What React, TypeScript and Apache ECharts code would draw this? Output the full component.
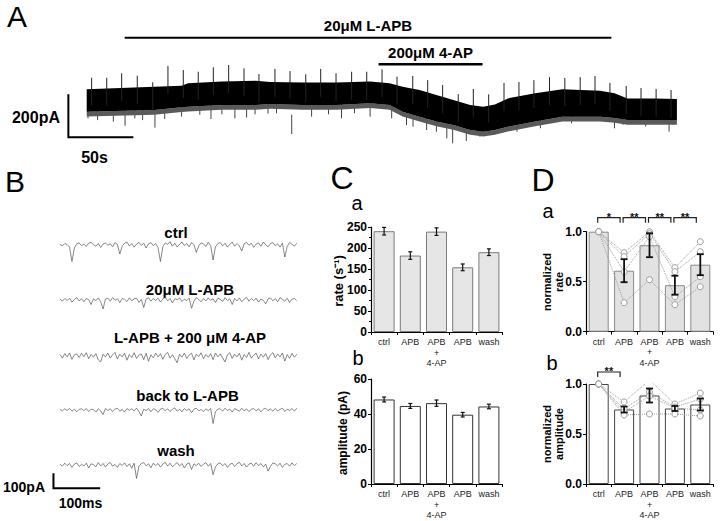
import React, { useEffect, useRef } from "react";
import * as echarts from "echarts";

const FF = "'Liberation Sans', Arial, sans-serif";

// ---------------- Panel A : long recording (time in s, current in pA) ----------------
const aTime = [0, 52, 73, 78, 104, 130, 141, 166, 192, 218, 233, 243, 256, 269, 282, 295, 305, 314, 324, 345, 366, 395, 406, 416, 437, 454];
const aTop = [223, 235, 240, 251, 259, 263, 257, 255, 255, 259, 251, 235, 220, 197, 173, 150, 142, 153, 181, 205, 223, 217, 205, 181, 181, 178];
const aBottom = [119, 127, 140, 142, 150, 150, 155, 150, 150, 158, 150, 119, 96, 73, 57, 34, 26, 34, 49, 73, 96, 96, 90, 80, 80, 80];
const aFringe = [97, 105, 118, 120, 128, 128, 133, 128, 128, 136, 128, 97, 74, 51, 35, 12, 4, 12, 27, 51, 74, 74, 68, 58, 58, 58];
const aUpT = [3.8, 15.4, 26.9, 38.9, 50.8, 62.5, 74.3, 85.8, 97.4, 109.2, 121, 132.5, 144.8, 156.4, 168.5, 180, 191.8, 203.8, 215.4, 227.2, 238.7, 250.8, 262.3, 273.8, 285.8, 297.4, 309.2, 321, 332.5, 344, 356, 367.8, 379.6, 391, 402.5, 415, 426.4, 438, 449.5];
const aUpV = [277, 277, 298, 286, 256, 332, 313, 305, 326, 336, 321, 294, 318, 308, 293, 318, 298, 305, 305, 316, 282, 285, 266, 243, 201, 225, 200, 253, 257, 266, 280, 276, 280, 285, 253, 239, 229, 225, 220];
const aDownT = [1, 8.4, 20.5, 29.5, 37, 43, 52.5, 60, 73, 87, 95.6, 104, 114, 123, 129.5, 139.5, 146, 157.7, 173, 186, 196, 206, 218, 234.6, 246, 251, 261.5, 269, 277, 281.5, 292, 302.5, 310, 331, 349, 373, 406, 412.5, 430, 448];
const aDownV = [88, 80, 73, 54, 88, 80, 45, 85, 96, 105, 85, 107, 88, 92, 107, 110, 112, 15, 96, 107, 88, 112, 96, 88, 57, 49, 34, 26, -5, -28, -17, 3, 11, 26, 42, 65, 42, 58, 50, 26];
const aDrugNames = ["20\u03bcM L-APB", "200\u03bcM 4-AP"];
const aDrugStart = [29.2, 224.5];
const aDrugEnd = [403.6, 304.5];
const aDrugLevel = [463, 340];
const aScaleT = [-14.1, 35.9]; // 50 s
const aScaleV = [0, 200]; // 200 pA

// ---------------- Panel B : sweeps (time in ms, current in pA) ----------------
const bLabels = ["ctrl", "20\u03bcM L-APB", "L-APB + 200 \u03bcM 4-AP", "back to L-APB", "wash"];
const bCtrl = [
  4, -6, 10, 2, -14, -110, -20, 8, 14, -4,
  6, -10, 12, 18, 2, -8, 10, -16, 6, 14,
  -2, 8, -12, 16, 4, -60, -8, 12, 20, -6,
  10, -14, 6, 18, -2, 12, -20, 8, 16, -4,
  10, -18, -110, -10, 14, 4, 22, -8, 12, -14,
  6, 20, -4, 10, -12, 16, 2, -50, -6, 14,
  8, -10, 18, -4, -100, -12, 10, 16, -6, 12,
  -14, 4, 20, -8, 10, -6, -40, 8, 18, -2,
  12, -16, 6, 14, -8, 20, 2, -12, 10, 16,
  -6, 8, -14, 12, -80, -10, 18, 4, -8, 12,
];
const bLapb = [
  6, -8, 10, -4, 12, -14, 4, 16, -6, 8,
  -12, 10, 2, -30, 8, -4, 14, -10, -60, 6,
  12, -8, 16, -2, 8, -18, 10, 4, -10, 14,
  -6, 8, 12, -16, 4, -50, 6, 16, -8, 10,
  -4, 12, -14, 6, 18, -6, 10, -20, 8, 2,
  14, -10, 6, -4, 12, -55, -8, 16, 4, -12,
  10, -6, 14, -2, 8, -16, 12, 4, -10, 16,
  -4, 8, -30, 10, -6, 14, -12, 6, 18, -8,
  10, -4, 12, -14, 6, -2, -26, 8, 14, -6,
  10, -12, 16, 4, -8, 12, -16, 6, 10, -4,
];
const bLapb4ap = [
  10, -14, 16, -6, 20, -22, 8, 14, -10, 18,
  -4, 22, -18, 10, -8, 16, -26, -40, 12, -6,
  20, -14, 8, 24, -20, 12, -6, 18, -28, 10,
  -10, 22, -16, 6, 14, -24, 18, -35, 8, -12,
  20, -6, 16, -22, 10, 24, -14, 8, -18, -45,
  12, -8, 20, -16, 6, 18, -26, 12, -4, 22,
  -18, 10, -8, 16, -24, 20, -6, 14, -12, -40,
  8, 22, -16, 12, -6, 18, -28, 10, -10, 24,
  -14, 6, 20, -20, 12, -8, 16, -24, 8, 22,
  -12, 14, -6, 20, -34, 10, -16, 18, -8, 12,
];
const bBack = [
  4, -6, 8, -2, 10, -8, 6, -12, 4, 8,
  -4, 10, -10, 6, 2, -14, 8, -6, -30, 10,
  -4, 8, -10, 6, 12, -8, 4, -14, 10, -2,
  8, -6, 12, -10, -40, 6, -4, 10, -12, 8,
  2, -16, 6, 12, -6, 8, -10, 4, 14, -8,
  6, -12, 10, -4, 8, -18, 6, 12, -6, 4,
  -10, 8, -4, 10, -90, -12, 6, 8, -8, 12,
  -4, 6, -14, 10, 2, -8, 12, -6, 8, -10,
  4, 10, -6, 8, -12, 6, 12, -4, 8, -8,
  10, -6, 4, 12, -10, 6, -4, 10, -8, 12,
];
const bWash = [
  6, -8, 12, -4, 10, -16, 6, 14, -10, 4,
  -6, 12, -20, 8, 2, -12, 16, -6, 10, -14,
  6, 18, -8, 4, -16, 10, -4, 14, -10, 8,
  -22, 12, -90, -8, 10, 16, -6, 8, -18, 12,
  -4, 10, -14, 6, 18, -8, 12, -12, 4, 16,
  -6, 10, -20, 6, 14, -30, 8, -4, 12, -10,
  6, 16, -8, 10, -65, -12, 8, 14, -6, 10,
  -16, 4, 12, -10, 8, 18, -6, 10, -14, 6,
  12, -8, 16, -4, 10, -12, 6, -40, -10, 14,
  8, -6, 12, -16, 4, 10, -8, 14, -4, 10,
];
const bTraces = [bCtrl, bLapb, bLapb4ap, bBack, bWash];
const bDuration = 507; // ms
const bScaleT = [-14, 86]; // 100 ms
const bScaleV = [-55, -155]; // 100 pA

// ---------------- Panels C and D ----------------
const catLabels = ["ctrl", "APB", "APB\n+\n4-AP", "APB", "wash"];
const caRate = [240, 182, 239, 154, 190];
const caRateErr = [9, 9, 9, 8, 8];
const cbAmp = [48.3, 44.6, 46.2, 39.6, 44.3];
const cbAmpErr = [1.4, 1.4, 1.8, 1.3, 1.3];

const daMean = [1.0, 0.61, 0.865, 0.465, 0.67];
const daErr = [0, 0.115, 0.12, 0.095, 0.105];
const daCell1 = [1.0, 0.79, 1.0, 0.64, 0.9];
const daCell2 = [1.0, 0.75, 0.98, 0.6, 0.8];
const daCell3 = [1.0, 0.6, 0.95, 0.35, 0.55];
const daCell4 = [1.0, 0.29, 0.52, 0.27, 0.45];
const daSigFrom = [0, 1, 2, 3];
const daSigTo = [1, 2, 3, 4];
const daSigText = ["*", "**", "**", "**"];
const daSigLevel = 1.14;

const dbMean = [1.0, 0.745, 0.885, 0.755, 0.795];
const dbErr = [0, 0.03, 0.07, 0.025, 0.06];
const dbCell1 = [1.0, 0.82, 1.04, 0.8, 0.91];
const dbCell2 = [1.0, 0.75, 0.92, 0.77, 0.85];
const dbCell3 = [1.0, 0.72, 0.88, 0.76, 0.74];
const dbCell4 = [1.0, 0.69, 0.7, 0.7, 0.68];
const dbSigFrom = [0];
const dbSigTo = [1];
const dbSigText = ["**"];
const dbSigLevel = 1.12;

function txt(text: string, x: number, y: number, size: number, opts: any = {}) {
  return {
    type: "text",
    x,
    y,
    rotation: opts.rotation || 0,
    style: {
      text,
      fill: opts.color || "#000",
      fontSize: size,
      fontWeight: opts.weight || "normal",
      fontFamily: FF,
      align: opts.align || "center",
      textAlign: opts.align || "center",
      verticalAlign: "middle",
      textVerticalAlign: "middle",
      lineHeight: opts.lineHeight,
    },
  };
}

function hiddenVal(gi: number, min: number, max: number) {
  return { type: "value", gridIndex: gi, min, max, show: false, splitLine: { show: false } };
}

function catAxis(gi: number) {
  return {
    type: "category",
    gridIndex: gi,
    data: catLabels,
    axisLine: { lineStyle: { color: "#000", width: 1.2 } },
    axisTick: { show: true, length: 3, lineStyle: { color: "#000" } },
    axisLabel: { interval: 0, fontSize: 9, color: "#222", margin: 5, lineHeight: 10.5, fontFamily: FF },
    splitLine: { show: false },
  };
}

function valAxis(gi: number, max: number, interval: number, dec: number, minor: boolean) {
  return {
    type: "value",
    gridIndex: gi,
    min: 0,
    max,
    interval,
    axisLine: { show: true, lineStyle: { color: "#000", width: 1.2 } },
    axisTick: { show: true, length: 3, lineStyle: { color: "#000" } },
    minorTick: { show: minor, splitNumber: 2, length: 2, lineStyle: { color: "#000" } },
    axisLabel: {
      fontSize: 12,
      fontWeight: "bold",
      color: "#000",
      margin: 4,
      fontFamily: FF,
      formatter: (v: number) => v.toFixed(dec),
    },
    splitLine: { show: false },
  };
}

function errSeries(gi: number, mean: number[], err: number[], capHalf: number, lw: number) {
  return {
    type: "custom",
    xAxisIndex: gi,
    yAxisIndex: gi,
    z: 5,
    itemStyle: { color: "#111" },
    data: mean.map((m, i) => [i, m, err[i]]),
    encode: { x: 0, y: 1 },
    renderItem: (_p: any, api: any) => {
      const i = api.value(0);
      const m = api.value(1);
      const e = api.value(2);
      if (!e) return null;
      const t = api.coord([i, m + e]);
      const b = api.coord([i, m - e]);
      const x = t[0];
      const st = { stroke: "#111", lineWidth: lw };
      return {
        type: "group",
        children: [
          { type: "line", shape: { x1: x, y1: t[1], x2: x, y2: b[1] }, style: st },
          { type: "line", shape: { x1: x - capHalf, y1: t[1], x2: x + capHalf, y2: t[1] }, style: st },
          { type: "line", shape: { x1: x - capHalf, y1: b[1], x2: x + capHalf, y2: b[1] }, style: st },
        ],
      };
    },
  };
}

function sigSeries(gi: number, from: number[], to: number[], labels: string[], level: number) {
  return {
    type: "custom",
    xAxisIndex: gi,
    yAxisIndex: gi,
    z: 5,
    itemStyle: { color: "#111" },
    data: from.map((f, i) => [f, to[i], level]),
    encode: { x: [0, 1], y: 2 },
    renderItem: (p: any, api: any) => {
      const a = api.coord([api.value(0), api.value(2)]);
      const b = api.coord([api.value(1), api.value(2)]);
      const x1 = a[0] - 1;
      const x2 = b[0] - 4;
      const y = a[1];
      return {
        type: "group",
        children: [
          {
            type: "polyline",
            shape: { points: [[x1, y + 5], [x1, y], [x2, y], [x2, y + 5]] },
            style: { stroke: "#222", lineWidth: 1.2, fill: "none" },
          },
          {
            type: "text",
            x: (x1 + x2) / 2,
            y: y - 1,
            style: {
              text: labels[p.dataIndex],
              fontSize: 11,
              fontWeight: "bold",
              fontFamily: FF,
              fill: "#111",
              textFill: "#111",
              align: "center",
              verticalAlign: "middle",
            },
          },
        ],
      };
    },
  };
}

function cellSeries(gi: number, values: number[]) {
  return {
    type: "line",
    xAxisIndex: gi,
    yAxisIndex: gi,
    data: values,
    z: 3,
    symbol: "circle",
    symbolSize: 6,
    itemStyle: { color: "#fff", borderColor: "#9a9a9a", borderWidth: 1 },
    lineStyle: { color: "#9a9a9a", width: 1, type: "dotted" },
  };
}

function barSeries(gi: number, data: number[], fill: string, border: string, w: number) {
  return {
    type: "bar",
    xAxisIndex: gi,
    yAxisIndex: gi,
    data,
    barWidth: w,
    z: 2,
    itemStyle: { color: fill, borderColor: border, borderWidth: 1 },
  };
}

function buildOption() {
  // B grid geometry: t=0 at x=60, 0.467 px/ms; 0.15 px/pA
  const bBase = [245, 300, 356, 410, 465];
  const bMin = -16;
  const bMax = 510;
  const bPx = 0.467;
  const grids: any[] = [
    { left: 60.7, top: 51.3, width: 624, height: 94.6 },
    ...bBase.map((base) => ({ left: 60 + bMin * bPx, top: base - 6, width: (bMax - bMin) * bPx, height: 30 })),
    { left: 371, top: 227, width: 131, height: 105 },
    { left: 371, top: 379, width: 131, height: 105 },
    { left: 586, top: 231.7, width: 127, height: 100 },
    { left: 586, top: 384, width: 127, height: 100 },
  ];

  const xAxes: any[] = [
    hiddenVal(0, -20, 460),
    ...bBase.map((_, i) => hiddenVal(i + 1, bMin, bMax)),
    catAxis(6),
    catAxis(7),
    catAxis(8),
    catAxis(9),
  ];
  const yAxes: any[] = [
    hiddenVal(0, -40, 400),
    ...bBase.map((_, i) => hiddenVal(i + 1, -160, 40)),
    valAxis(6, 250, 50, 0, true),
    valAxis(7, 60, 20, 0, false),
    valAxis(8, 1, 0.5, 1, false),
    valAxis(9, 1, 0.5, 1, false),
  ];

  const series: any[] = [];

  // A: band of the recording
  series.push({
    type: "custom",
    xAxisIndex: 0,
    yAxisIndex: 0,
    z: 2,
    itemStyle: { color: "#000" },
    data: aTime.map((t, i) => [t, aTop[i], aBottom[i], aFringe[i]]),
    encode: { x: 0, y: [1, 2, 3] },
    renderItem: (p: any, api: any) => {
      if (p.dataIndex !== 0) return null;
      const top = aTime.map((t, i) => api.coord([t, aTop[i]]));
      const bot = aTime.map((t, i) => api.coord([t, aBottom[i]]));
      const fr = aTime.map((t, i) => api.coord([t, aFringe[i]]));
      return {
        type: "group",
        children: [
          { type: "polygon", shape: { points: [...bot, ...fr.slice().reverse()] }, style: { fill: "#5a5a5a" } },
          { type: "polygon", shape: { points: [...top, ...bot.slice().reverse()] }, style: { fill: "#000" } },
        ],
      };
    },
  });
  // A: upward artefact spikes
  series.push({
    type: "custom",
    xAxisIndex: 0,
    yAxisIndex: 0,
    z: 3,
    itemStyle: { color: "#000" },
    data: aUpT.map((t, i) => [t, aUpV[i]]),
    encode: { x: 0, y: 1 },
    renderItem: (_p: any, api: any) => {
      const a = api.coord([api.value(0), api.value(1)]);
      const b = api.coord([api.value(0), api.value(1) - 130]);
      return { type: "line", shape: { x1: a[0], y1: a[1], x2: b[0], y2: b[1] }, style: { stroke: "#222", lineWidth: 1 } };
    },
  });
  // A: downward events
  series.push({
    type: "custom",
    xAxisIndex: 0,
    yAxisIndex: 0,
    z: 1,
    itemStyle: { color: "#333" },
    data: aDownT.map((t, i) => [t, aDownV[i]]),
    encode: { x: 0, y: 1 },
    renderItem: (_p: any, api: any) => {
      const a = api.coord([api.value(0), api.value(1)]);
      const b = api.coord([api.value(0), api.value(1) + 90]);
      return { type: "line", shape: { x1: a[0], y1: a[1], x2: b[0], y2: b[1] }, style: { stroke: "#444", lineWidth: 1 } };
    },
  });
  // A: drug application bars
  series.push({
    type: "custom",
    xAxisIndex: 0,
    yAxisIndex: 0,
    z: 3,
    itemStyle: { color: "#000" },
    data: aDrugStart.map((s, i) => [s, aDrugEnd[i], aDrugLevel[i]]),
    encode: { x: [0, 1], y: 2 },
    renderItem: (p: any, api: any) => {
      const a = api.coord([api.value(0), api.value(2)]);
      const b = api.coord([api.value(1), api.value(2)]);
      return {
        type: "group",
        children: [
          { type: "line", shape: { x1: a[0], y1: a[1], x2: b[0], y2: b[1] }, style: { stroke: "#000", lineWidth: p.dataIndex === 0 ? 2 : 2.6 } },
          {
            type: "text",
            x: (a[0] + b[0]) / 2,
            y: a[1] - 12,
            style: {
              text: aDrugNames[p.dataIndex],
              fontSize: 15,
              fontWeight: "bold",
              fontFamily: FF,
              fill: "#000",
              align: "center",
              verticalAlign: "middle",
            },
          },
        ],
      };
    },
  });
  // A: scale bar
  series.push({
    type: "custom",
    xAxisIndex: 0,
    yAxisIndex: 0,
    itemStyle: { color: "#000" },
    data: [[aScaleT[0], aScaleT[1], aScaleV[0], aScaleV[1]]],
    encode: { x: [0, 1], y: [2, 3] },
    renderItem: (_p: any, api: any) => {
      const p1 = api.coord([api.value(0), api.value(3)]);
      const p0 = api.coord([api.value(0), api.value(2)]);
      const p2 = api.coord([api.value(1), api.value(2)]);
      return { type: "polyline", shape: { points: [p1, p0, p2] }, style: { stroke: "#000", lineWidth: 2, fill: "none" } };
    },
  });

  // B traces
  bTraces.forEach((tr, k) => {
    const dt = bDuration / (tr.length - 1);
    series.push({
      type: "line",
      xAxisIndex: k + 1,
      yAxisIndex: k + 1,
      showSymbol: false,
      symbol: "none",
      data: tr.map((v, i) => [i * dt, v]),
      lineStyle: { color: "#555", width: 0.7 },
    });
  });
  // B scale bar (in wash sweep coordinates)
  series.push({
    type: "custom",
    xAxisIndex: 5,
    yAxisIndex: 5,
    itemStyle: { color: "#000" },
    data: [[bScaleT[0], bScaleT[1], bScaleV[0], bScaleV[1]]],
    encode: { x: [0, 1], y: [2, 3] },
    renderItem: (_p: any, api: any) => {
      const p1 = api.coord([api.value(0), api.value(2)]);
      const p0 = api.coord([api.value(0), api.value(3)]);
      const p2 = api.coord([api.value(1), api.value(3)]);
      return { type: "polyline", shape: { points: [p1, p0, p2] }, style: { stroke: "#000", lineWidth: 2, fill: "none" } };
    },
  });

  // C
  series.push(barSeries(6, caRate, "#e6e6e6", "#7a7a7a", 21));
  series.push(errSeries(6, caRate, caRateErr, 2, 1.2));
  series.push(barSeries(7, cbAmp, "#ffffff", "#333", 21));
  series.push(errSeries(7, cbAmp, cbAmpErr, 2, 1.2));

  // D
  series.push(barSeries(8, daMean, "#e2e2e2", "#8a8a8a", 20));
  [daCell1, daCell2, daCell3, daCell4].forEach((c) => series.push(cellSeries(8, c)));
  series.push(errSeries(8, daMean, daErr, 3.5, 1.8));
  series.push(sigSeries(8, daSigFrom, daSigTo, daSigText, daSigLevel));

  series.push(barSeries(9, dbMean, "#ffffff", "#444", 20));
  [dbCell1, dbCell2, dbCell3, dbCell4].forEach((c) => series.push(cellSeries(9, c)));
  series.push(errSeries(9, dbMean, dbErr, 3.5, 1.8));
  series.push(sigSeries(9, dbSigFrom, dbSigTo, dbSigText, dbSigLevel));

  const graphic: any[] = [
    txt("A", 17, 16, 30),
    txt("B", 15, 181, 30),
    txt("C", 342, 178, 32),
    txt("D", 543, 180, 32),
    txt("a", 357, 203, 20),
    txt("b", 358, 358, 20),
    txt("a", 548, 211, 20),
    txt("b", 552, 363, 20),
    txt("200pA", 60, 117, 16, { weight: "bold", align: "right" }),
    txt("50s", 94.5, 157, 16, { weight: "bold" }),
    txt(bLabels[0], 176, 232, 15, { weight: "bold" }),
    txt(bLabels[1], 190, 289, 15, { weight: "bold" }),
    txt(bLabels[2], 190, 337, 15, { weight: "bold" }),
    txt(bLabels[3], 187.5, 395, 15, { weight: "bold" }),
    txt(bLabels[4], 176, 450, 15, { weight: "bold" }),
    txt("100pA", 45, 487, 14, { weight: "bold", align: "right" }),
    txt("100ms", 80.5, 503, 14, { weight: "bold" }),
    txt("rate (s\u207b\u00b9)", 338, 281, 13, { weight: "bold", rotation: Math.PI / 2 }),
    txt("amplitude (pA)", 343, 433, 12, { weight: "bold", rotation: Math.PI / 2 }),
    txt("normalized\nrate", 553, 282, 11, { weight: "bold", rotation: Math.PI / 2, lineHeight: 12 }),
    txt("normalized\namplitude", 553, 434, 11, { weight: "bold", rotation: Math.PI / 2, lineHeight: 12 }),
  ];

  return {
    animation: false,
    backgroundColor: "#fff",
    color: ["#111"],
    textStyle: { fontFamily: FF },
    grid: grids,
    xAxis: xAxes,
    yAxis: yAxes,
    series,
    graphic,
  };
}

export default function App() {
  const ref = useRef<HTMLDivElement>(null);
  useEffect(() => {
    document.body.style.margin = "0";
    const chart = echarts.init(ref.current!, undefined, { renderer: "svg", width: 720, height: 521 });
    chart.setOption(buildOption() as any);
    return () => chart.dispose();
  }, []);
  return <div ref={ref} style={{ width: 720, height: 521, background: "#fff" }} />;
}
